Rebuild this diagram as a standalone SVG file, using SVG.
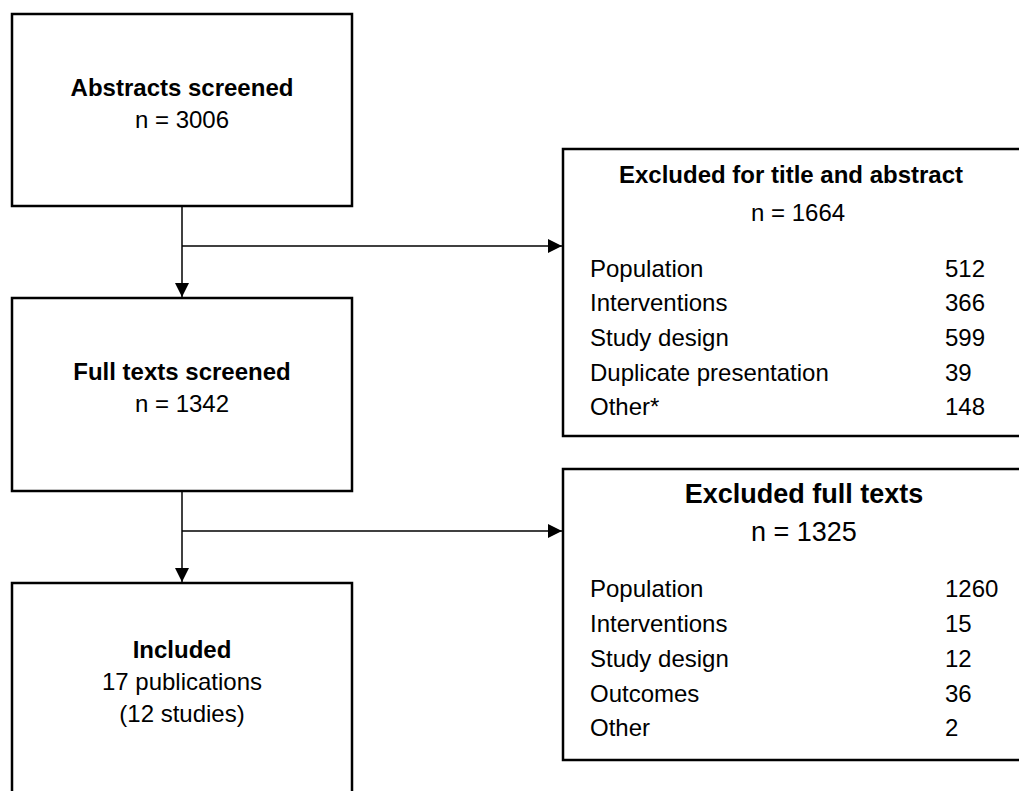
<svg xmlns="http://www.w3.org/2000/svg" width="1019" height="791" viewBox="0 0 1019 791">
<style>
.box{fill:#fff;stroke:#000;stroke-width:2.5}
.t{font-family:"Liberation Sans",Arial,sans-serif;font-size:24px;fill:#000}
.b{font-weight:bold}
.c{text-anchor:middle}
.big{font-size:27px}
.conn{fill:none;stroke:#000;stroke-width:1.5}
</style>
<defs>
<marker id="arr" markerUnits="userSpaceOnUse" markerWidth="14" markerHeight="14" refX="14" refY="7" orient="auto">
<path d="M0,0 L14,7 L0,14 z" fill="#000"/>
</marker>
</defs>
<rect width="1019" height="791" fill="#fff"/>
<g id="connectors">
<path class="conn" d="M182,206 V297" marker-end="url(#arr)"/>
<path class="conn" d="M182,246 H562" marker-end="url(#arr)"/>
<path class="conn" d="M182,491 V582" marker-end="url(#arr)"/>
<path class="conn" d="M182,531 H562" marker-end="url(#arr)"/>
</g>
<g id="abstracts">
<rect class="box" x="12" y="14" width="340" height="192"/>
<text class="t b c" x="182" y="96">Abstracts screened</text>
<text class="t c" x="182" y="128">n = 3006</text>
</g>
<g id="fulltexts">
<rect class="box" x="12" y="298" width="340" height="193"/>
<text class="t b c" x="182" y="380">Full texts screened</text>
<text class="t c" x="182" y="412">n = 1342</text>
</g>
<g id="included">
<rect class="box" x="12" y="583" width="340" height="230"/>
<text class="t b c" x="182" y="658">Included</text>
<text class="t c" x="182" y="690">17 publications</text>
<text class="t c" x="182" y="722">(12 studies)</text>
</g>
<g id="excluded-abstract">
<rect class="box" x="563" y="149" width="470" height="287"/>
<text class="t b c" x="791" y="183">Excluded for title and abstract</text>
<text class="t" x="751" y="221">n = 1664</text>
<text class="t" x="590" y="277">Population</text><text class="t" x="945" y="277">512</text>
<text class="t" x="590" y="311">Interventions</text><text class="t" x="945" y="311">366</text>
<text class="t" x="590" y="346">Study design</text><text class="t" x="945" y="346">599</text>
<text class="t" x="590" y="381">Duplicate presentation</text><text class="t" x="945" y="381">39</text>
<text class="t" x="590" y="415">Other*</text><text class="t" x="945" y="415">148</text>
</g>
<g id="excluded-fulltext">
<rect class="box" x="563" y="469" width="470" height="291"/>
<text class="t b c big" x="804" y="503">Excluded full texts</text>
<text class="t big" x="751" y="541">n = 1325</text>
<text class="t" x="590" y="597">Population</text><text class="t" x="945" y="597">1260</text>
<text class="t" x="590" y="632">Interventions</text><text class="t" x="945" y="632">15</text>
<text class="t" x="590" y="667">Study design</text><text class="t" x="945" y="667">12</text>
<text class="t" x="590" y="702">Outcomes</text><text class="t" x="945" y="702">36</text>
<text class="t" x="590" y="736">Other</text><text class="t" x="945" y="736">2</text>
</g>
</svg>
